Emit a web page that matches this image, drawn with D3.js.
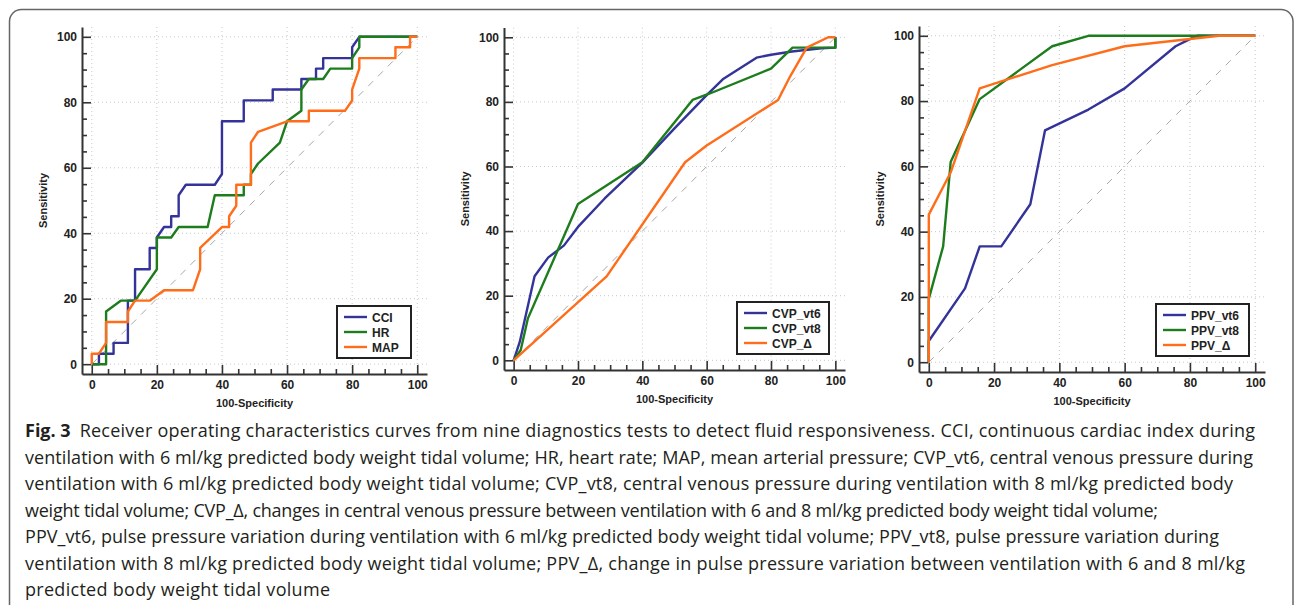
<!DOCTYPE html>
<html>
<head>
<meta charset="utf-8">
<script src="https://cdn.jsdelivr.net/npm/d3@7"></script>
<style>
    body { margin: 0; background: #fff; }
    .tick text { font-family: "Liberation Sans", Arial, sans-serif; font-weight: bold; font-size: 12px; fill: #222; }
    .axis-title { font-family: "Liberation Sans", Arial, sans-serif; font-weight: bold; font-size: 11px; fill: #222; }
    .legend text { font-family: "Liberation Sans", Arial, sans-serif; font-weight: bold; font-size: 12px; fill: #222; }
    .caption { font-family: "Open Sans", sans-serif; font-size: 18px; fill: #231f20; }
</style>
</head>
<body>
<div id="figure"></div>
<script>

// ---- data ----
const majorTicks = [0, 20, 40, 60, 80, 100];
const minorTicks = [5, 10, 15, 25, 30, 35, 45, 50, 55, 65, 70, 75, 85, 90, 95];

// panel 1
const cci = [[0,0],[2.2,0],[2.2,3.2],[6.7,3.2],[6.7,6.5],[11.1,6.5],[11.1,19.4],[13.3,19.4],[13.3,29.0],
    [17.8,29.0],[17.8,35.5],[20,35.5],[20,38.7],[22.2,41.9],[24.4,41.9],[24.4,45.2],[26.7,45.2],[26.7,51.6],
    [28.9,54.8],[37.8,54.8],[40,58.1],[40,74.2],[46.7,74.2],[46.7,80.6],[55.6,80.6],[55.6,83.9],[64.4,83.9],
    [64.4,87.1],[68.9,87.1],[68.9,90.3],[71.1,90.3],[71.1,93.5],[80,93.5],[80,96.8],[82.2,100],[100,100]];
const hr = [[0,0],[4.4,0],[4.4,16.1],[8.9,19.4],[13.3,19.4],[20,29.0],[20,38.7],[24.4,38.7],[26.7,41.9],
    [35.6,41.9],[37.8,51.6],[46.7,51.6],[46.7,54.8],[48.9,54.8],[48.9,58.1],[51.1,61.3],[57.8,67.7],[60,74.2],
    [64.4,77.4],[64.4,83.9],[66.7,87.1],[71.1,87.1],[73.3,90.3],[80,90.3],[80,93.5],[82.2,96.8],[82.2,100],[100,100]];
const map = [[0,0],[0,3.2],[2.2,3.2],[4.4,6.5],[4.4,12.9],[11.1,12.9],[11.1,16.1],[13.3,19.4],[17.8,19.4],
    [22.2,22.6],[31.1,22.6],[33.3,29.0],[33.3,35.5],[40,41.9],[42.2,41.9],[42.2,45.2],[44.4,48.4],[44.4,54.8],
    [48.9,54.8],[48.9,67.7],[51.1,71.0],[60,74.2],[66.7,74.2],[66.7,77.4],[77.8,77.4],[80,80.6],[80,83.9],
    [82.2,90.3],[82.2,93.5],[93.3,93.5],[93.3,96.8],[97.8,96.8],[97.8,100],[100,100]];

// panel 2
const cvpVt6 = [[0,0],[1.9,5.7],[6.5,26.0],[10.7,31.8],[15.6,35.5],[20,41.3],[28.3,50.1],[40,61.2],[50,71.8],
    [60,82.1],[65,87.0],[75.5,93.7],[80,94.6],[86.5,95.6],[95.6,96.6],[100,96.8],[100,100]];
const cvpVt8 = [[0,0],[2.2,3.2],[4.4,12.9],[20,48.4],[40,61.3],[55.6,80.6],[61,82.6],[80,90.3],[86.7,96.8],
    [100,96.8],[100,100]];
const cvpDelta = [[0,0],[28.9,26.0],[53.3,61.3],[60,66.5],[82.2,80.6],[86,88],[91.1,96.8],[97.8,100],[100,100]];

// panel 3
const ppvVt6 = [[0,0],[0,6.5],[11.1,22.6],[15.6,35.5],[22.2,35.5],[31.1,48.4],[35.6,71.0],[48.9,77.4],
    [60,83.9],[75.6,96.8],[80,99],[82.2,100],[100,100]];
const ppvVt8 = [[0,0],[0,19.4],[4.4,35.5],[6.7,61.3],[15.6,80.6],[37.8,96.8],[48.9,100],[100,100]];
const ppvDelta = [[0,0],[0,45.2],[6.7,58.1],[15.6,83.9],[37.8,91.0],[60,96.8],[88.9,100],[100,100]];

const colors = ['#33339a', '#1d7d1d', '#ff6d1a'];

const captionFirst = 'Receiver operating characteristics curves from nine diagnostics tests to detect fluid responsiveness. CCI, continuous cardiac index during';
const captionLines = [
    "ventilation with 6 ml/kg predicted body weight tidal volume; HR, heart rate; MAP, mean arterial pressure; CVP_vt6, central venous pressure during",
    "ventilation with 6 ml/kg predicted body weight tidal volume; CVP_vt8, central venous pressure during ventilation with 8 ml/kg predicted body",
    "weight tidal volume; CVP_Δ, changes in central venous pressure between ventilation with 6 and 8 ml/kg predicted body weight tidal volume;",
    "PPV_vt6, pulse pressure variation during ventilation with 6 ml/kg predicted body weight tidal volume; PPV_vt8, pulse pressure variation during",
    "ventilation with 8 ml/kg predicted body weight tidal volume; PPV_Δ, change in pulse pressure variation between ventilation with 6 and 8 ml/kg",
    "predicted body weight tidal volume"
];
// where each caption line ends in the reference (layout, not data)
const captionEnds = [1246, 1253, 1233, 1158, 1219, 1245, 330];


class RocChart {

    constructor(svg, box, series, names, legendWidth) {
        this.svg = svg;
        this.box = box;
        this.series = series;
        this.names = names;
        this.legendWidth = legendWidth;
        this.initVis();
    }

    initVis() {
        let vis = this;

        vis.x = d3.scaleLinear().domain([-3, 103]).range([vis.box.left, vis.box.right]);
        vis.y = d3.scaleLinear().domain([-3, 103]).range([vis.box.bottom, vis.box.top]);

        vis.g = vis.svg.append('g').attr('class', 'roc');

        // dotted grid
        vis.g.selectAll('.vgrid').data(majorTicks).enter().append('line')
            .attr('x1', d => vis.x(d)).attr('x2', d => vis.x(d))
            .attr('y1', vis.box.top).attr('y2', vis.box.bottom)
            .attr('stroke', '#c8c8c8').attr('stroke-dasharray', '1,3');
        vis.g.selectAll('.hgrid').data(majorTicks).enter().append('line')
            .attr('y1', d => vis.y(d)).attr('y2', d => vis.y(d))
            .attr('x1', vis.box.left).attr('x2', vis.box.right)
            .attr('stroke', '#c8c8c8').attr('stroke-dasharray', '1,3');

        // chance diagonal
        vis.g.append('line')
            .attr('x1', vis.x(0)).attr('y1', vis.y(0))
            .attr('x2', vis.x(100)).attr('y2', vis.y(100))
            .attr('stroke', '#a8a8a8').attr('stroke-width', 1)
            .attr('stroke-dasharray', '7,7');

        vis.drawAxes();
        vis.updateVis();
    }

    drawAxes() {
        let vis = this;

        vis.g.append('g')
            .attr('transform', 'translate(0,' + vis.box.bottom + ')')
            .call(d3.axisBottom(vis.x).tickValues(majorTicks).tickSizeInner(-9).tickSizeOuter(0).tickPadding(6));
        vis.g.append('g')
            .attr('transform', 'translate(0,' + vis.box.bottom + ')')
            .call(d3.axisBottom(vis.x).tickValues(minorTicks).tickSize(-5).tickFormat(''))
            .select('.domain').remove();

        vis.g.append('g')
            .attr('transform', 'translate(' + vis.box.left + ',0)')
            .call(d3.axisLeft(vis.y).tickValues(majorTicks).tickSizeInner(-9).tickSizeOuter(0).tickPadding(5));
        vis.g.append('g')
            .attr('transform', 'translate(' + vis.box.left + ',0)')
            .call(d3.axisLeft(vis.y).tickValues(minorTicks).tickSize(-5).tickFormat(''))
            .select('.domain').remove();

        vis.g.selectAll('.domain').attr('stroke', '#333').attr('stroke-width', 2);
        vis.g.selectAll('.tick line').attr('stroke', '#333').attr('stroke-width', 1.6);

        vis.g.append('text')
            .attr('class', 'axis-title')
            .attr('x', vis.x(50)).attr('y', vis.box.bottom + 33)
            .attr('text-anchor', 'middle')
            .text('100-Specificity');

        vis.g.append('text')
            .attr('class', 'axis-title')
            .attr('transform', 'translate(' + (vis.box.left - 35) + ',' + vis.y(50) + ') rotate(-90)')
            .attr('text-anchor', 'middle')
            .text('Sensitivity');
    }

    updateVis() {
        let vis = this;

        let line = d3.line()
            .x(d => vis.x(d[0]))
            .y(d => vis.y(d[1]));

        vis.g.selectAll('.curve').data(vis.series).enter().append('path')
            .attr('class', 'curve')
            .attr('d', line)
            .attr('fill', 'none')
            .attr('stroke', (d, i) => colors[i])
            .attr('stroke-width', 2.4)
            .attr('stroke-linejoin', 'round');

        // legend box in lower right
        let lw = vis.legendWidth, lh = 52;
        let legend = vis.g.append('g')
            .attr('class', 'legend')
            .attr('transform', 'translate(' + (vis.box.right - 16 - lw) + ',' + (vis.box.bottom - 16 - lh) + ')');
        legend.append('rect')
            .attr('width', lw).attr('height', lh)
            .attr('fill', '#fff').attr('stroke', '#222').attr('stroke-width', 2);
        vis.names.forEach(function(name, i) {
            let yy = 11 + i * 15;
            legend.append('line')
                .attr('x1', 7).attr('x2', 30).attr('y1', yy).attr('y2', yy)
                .attr('stroke', colors[i]).attr('stroke-width', 2.4);
            legend.append('text')
                .attr('x', 35).attr('y', yy + 4.5)
                .text(name);
        });
    }
}


let svg = d3.select('#figure').append('svg')
    .attr('width', 1295)
    .attr('height', 605);

// figure frame
svg.append('rect')
    .attr('x', 9.5).attr('y', 9.5)
    .attr('width', 1283.5).attr('height', 640)
    .attr('rx', 12)
    .attr('fill', 'none').attr('stroke', '#666').attr('stroke-width', 1.5);

new RocChart(svg, {left: 82, right: 427, top: 27, bottom: 374}, [cci, hr, map], ['CCI', 'HR', 'MAP'], 74);
new RocChart(svg, {left: 504, right: 845, top: 27.6, bottom: 370}, [cvpVt6, cvpVt8, cvpDelta], ['CVP_vt6', 'CVP_vt8', 'CVP_Δ'], 92);
new RocChart(svg, {left: 919, right: 1265, top: 26, bottom: 372}, [ppvVt6, ppvVt8, ppvDelta], ['PPV_vt6', 'PPV_vt8', 'PPV_Δ'], 93);

// caption
let caption = svg.append('g');
let first = caption.append('text')
    .attr('class', 'caption')
    .attr('x', 25).attr('y', 437);
first.append('tspan').attr('font-weight', 'bold').text('Fig. 3');
let rest = first.append('tspan').attr('dx', 9).text(captionFirst);
// stretch the body of line 1 so it ends where the reference does
let restStart = 25 + first.node().getComputedTextLength() - rest.node().getComputedTextLength();
rest.attr('textLength', captionEnds[0] - restStart).attr('lengthAdjust', 'spacing');

caption.selectAll('.cap').data(captionLines).enter().append('text')
    .attr('class', 'caption')
    .attr('x', 25)
    .attr('y', (d, i) => 437 + (i + 1) * 26.5)
    .attr('textLength', (d, i) => captionEnds[i + 1] - 25)
    .attr('lengthAdjust', 'spacing')
    .text(d => d);

</script>
</body>
</html>
